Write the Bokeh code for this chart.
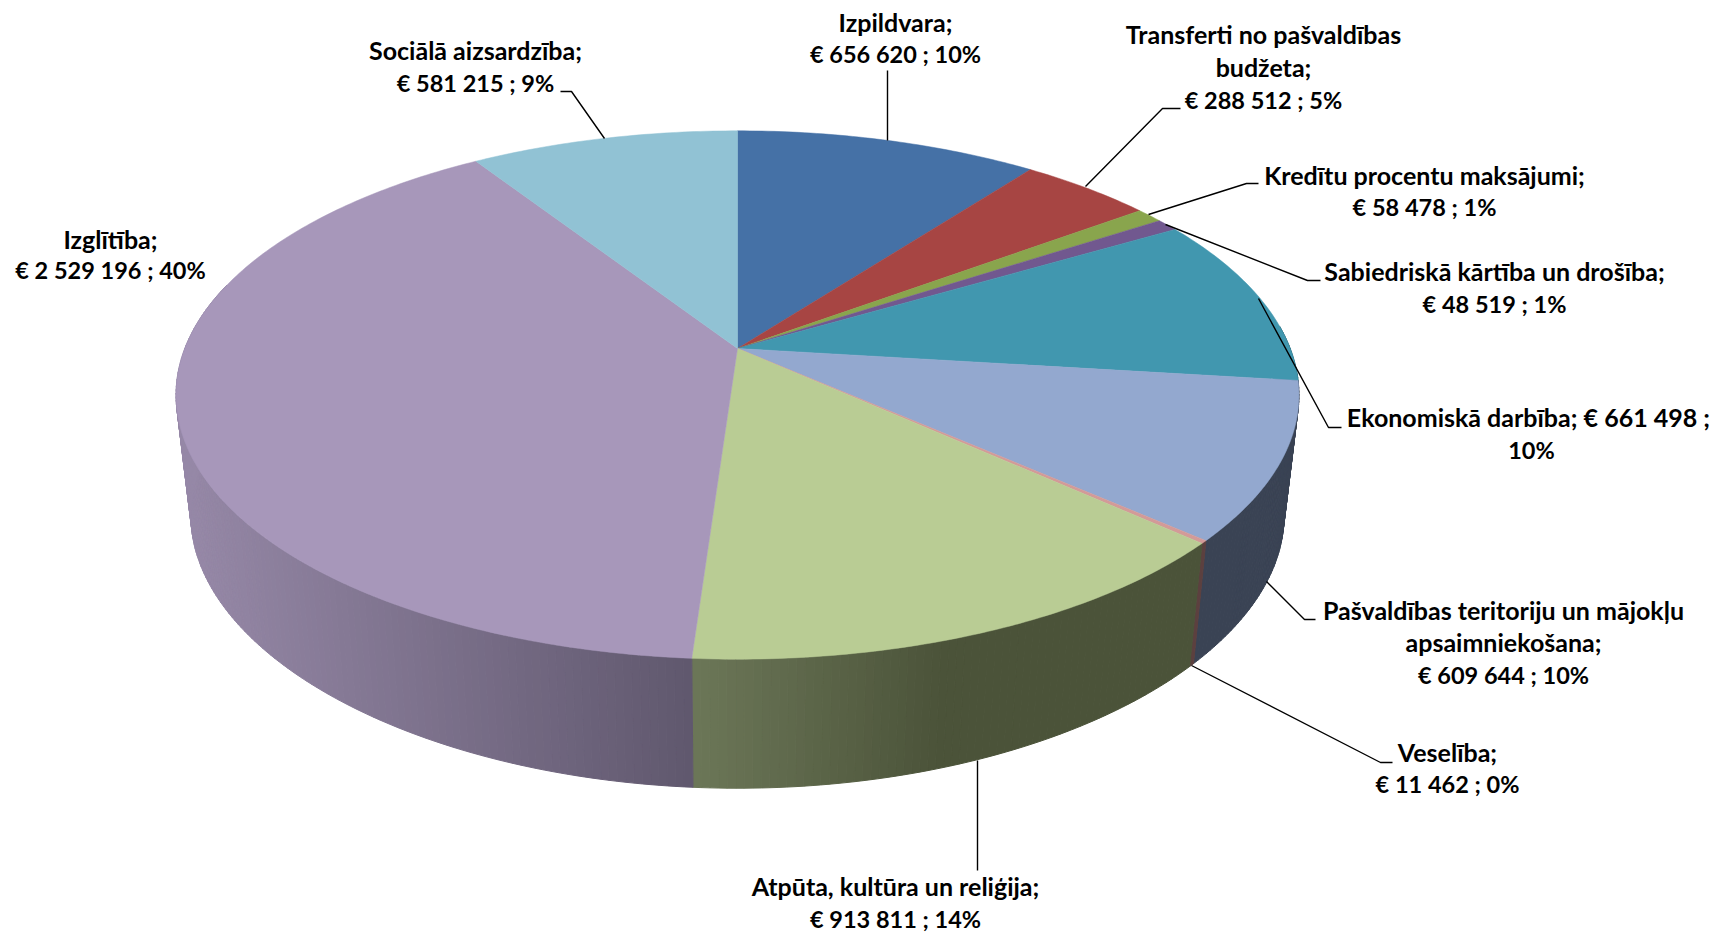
import math
from bokeh.plotting import figure
from bokeh.models import Range1d, ColumnDataSource
from bokeh.core.properties import value
from bokeh.embed import file_html
from bokeh.resources import INLINE

categories = ["Izpildvara", "Transferti no pašvaldības budžeta", "Kredītu procentu maksājumi",
              "Sabiedriskā kārtība un drošība", "Ekonomiskā darbība",
              "Pašvaldības teritoriju un mājokļu apsaimniekošana", "Veselība",
              "Atpūta, kultūra un reliģija", "Izglītība", "Sociālā aizsardzība"]
amounts = [656620, 288512, 58478, 48519, 661498, 609644, 11462, 913811, 2529196, 581215]
top_colors = ["#4571A6", "#A74543", "#89A54D", "#71588F", "#4197AF",
              "#93A8CF", "#D39A98", "#B9CC94", "#A797BA", "#91C2D4"]

# label text, one list per label; the last line (the amount) is set a little smaller
label_lines = [
    ["Izpildvara;", "€ 656 620 ; 10%"],
    ["Transferti no pašvaldības", "budžeta;", "€ 288 512 ; 5%"],
    ["Kredītu procentu maksājumi;", "€ 58 478 ; 1%"],
    ["Sabiedriskā kārtība un drošība;", "€ 48 519 ; 1%"],
    ["Ekonomiskā darbība;  € 661 498 ;", "10%"],
    ["Pašvaldības teritoriju un mājokļu", "apsaimniekošana;", "€ 609 644 ; 10%"],
    ["Veselība;", "€ 11 462 ; 0%"],
    ["Atpūta, kultūra un reliģija;", "€ 913 811 ; 14%"],
    ["Izglītība;", "€ 2 529 196 ; 40%"],
    ["Sociālā aizsardzība;", "€ 581 215 ; 9%"],
]
label_x = [895, 1263, 1424, 1494, 1531, 1503, 1447, 895, 110, 475]
label_y = [[21, 53], [33, 66, 99], [174, 206], [270.5, 303], [416, 449],
           [609, 641.5, 674], [751, 783], [885.5, 918], [238, 269], [49.5, 82]]
leaders = [
    ([887, 887], [70, 140]),
    ([1180, 1162, 1085], [108, 108, 186]),
    ([1258, 1246, 1148], [183, 183, 214]),
    ([1320, 1307, 1165], [280, 280, 224]),
    ([1341, 1328, 1258], [427, 427, 298]),
    ([1315, 1304, 1266], [619, 619, 581]),
    ([1392, 1380, 1191], [762, 762, 665]),
    ([977, 977], [760, 870]),
    ([], []),
    ([560, 571, 604], [91, 91, 138]),
]

# wall shading: (x_from, rgb_from, x_to, rgb_to) per slice
wall_shades = [
    (0, (0x2E, 0x4A, 0x6E), 1, (0x2E, 0x4A, 0x6E)),
    (0, (0x6E, 0x2D, 0x2C), 1, (0x6E, 0x2D, 0x2C)),
    (0, (0x5A, 0x6C, 0x32), 1, (0x5A, 0x6C, 0x32)),
    (0, (0x4A, 0x39, 0x5E), 1, (0x4A, 0x39, 0x5E)),
    (0, (0x2A, 0x63, 0x72), 1, (0x2A, 0x63, 0x72)),
    (0, (0x3A, 0x43, 0x54), 1, (0x3A, 0x43, 0x54)),
    (0, (0x5C, 0x40, 0x3F), 1, (0x5C, 0x40, 0x3F)),
    (692, (0x6C, 0x77, 0x58), 940, (0x4B, 0x53, 0x39)),
    (176, (0x97, 0x89, 0xA8), 692, (0x60, 0x58, 0x6E)),
    (0, (0x5E, 0x80, 0x8C), 1, (0x5E, 0x80, 0x8C)),
]

CX, TOP_CY, TOP_A, TOP_B, TOP_K = 737.0, 348.0, 552.7, 256.0, 0.176
BOT_CY, BOT_A, BOT_B, BOT_KX, BOT_KY = 469.5, 538.0, 251.4, 0.176, 0.21
WALL_FROM, WALL_TO = 85.0, 285.0


def top(deg):
    u, v = math.sin(math.radians(deg)), math.cos(math.radians(deg))
    w = 1 + TOP_K * v
    return CX + TOP_A * u / w, TOP_CY - TOP_B * v / w


def bottom(deg):
    u, v = math.sin(math.radians(deg)), math.cos(math.radians(deg))
    return CX + BOT_A * u / (1 + BOT_KX * v), BOT_CY - BOT_B * v / (1 + BOT_KY * v)


def shade(spec, x):
    x0, c0, x1, c1 = spec
    t = min(1.0, max(0.0, (x - x0) / (x1 - x0)))
    r, g, b = (round(c0[i] + (c1[i] - c0[i]) * t) for i in range(3))
    return f"#{r:02x}{g:02x}{b:02x}"


total = sum(amounts)
edges = [0.0]
for a in amounts:
    edges.append(edges[-1] + 360.0 * a / total)

p = figure(width=1716, height=934, x_range=Range1d(0, 1716), y_range=Range1d(934, 0),
           output_backend="svg", toolbar_location=None, min_border=0,
           background_fill_color="white", border_fill_color="white")
p.axis.visible = False
p.grid.visible = False
p.outline_line_color = None

# side wall, as narrow strips so that the shading can vary along x
wx, wy, wc = [], [], []
for i in range(len(amounts)):
    a0, a1 = max(edges[i], WALL_FROM), min(edges[i + 1], WALL_TO)
    if a1 <= a0:
        continue
    steps = max(1, int(math.ceil((a1 - a0) / 0.75)))
    for s in range(steps):
        d0 = a0 + (a1 - a0) * s / steps
        d1 = a0 + (a1 - a0) * (s + 1) / steps
        t0, t1, b1, b0 = top(d0), top(d1), bottom(d1), bottom(d0)
        wx.append([t0[0], t1[0], b1[0], b0[0]])
        wy.append([t0[1], t1[1], b1[1], b0[1]])
        wc.append(shade(wall_shades[i], (t0[0] + t1[0] + b0[0] + b1[0]) / 4))
p.patches("x", "y", source=ColumnDataSource(dict(x=wx, y=wy, c=wc)),
          fill_color="c", line_color="c", line_width=1)

# top face
sx, sy = [], []
for i in range(len(amounts)):
    steps = max(2, int(math.ceil((edges[i + 1] - edges[i]) / 0.75)))
    pts = [top(edges[i] + (edges[i + 1] - edges[i]) * s / steps) for s in range(steps + 1)]
    sx.append([CX] + [q[0] for q in pts])
    sy.append([TOP_CY] + [q[1] for q in pts])
p.patches("x", "y", source=ColumnDataSource(dict(x=sx, y=sy, c=top_colors)),
          fill_color="c", line_color="c", line_width=0.5)

# leader lines
for lx, ly in leaders:
    if lx:
        p.line(lx, ly, line_color="black", line_width=1.4)

# labels
tx, ty, tt, ts = [], [], [], []
for lines, x, ys in zip(label_lines, label_x, label_y):
    for line, y in zip(lines, ys):
        tx.append(x); ty.append(y); tt.append(line)
        ts.append("23.5px" if line.startswith("€") or line == "10%" else "25px")
p.text("x", "y", "t", source=ColumnDataSource(dict(x=tx, y=ty, t=tt, s=ts)),
       text_font=value("Lato"), text_font_style="bold", text_font_size="s",
       text_color="black", text_align="center", text_baseline="middle")

open("out.html", "w").write(file_html(p, INLINE))
